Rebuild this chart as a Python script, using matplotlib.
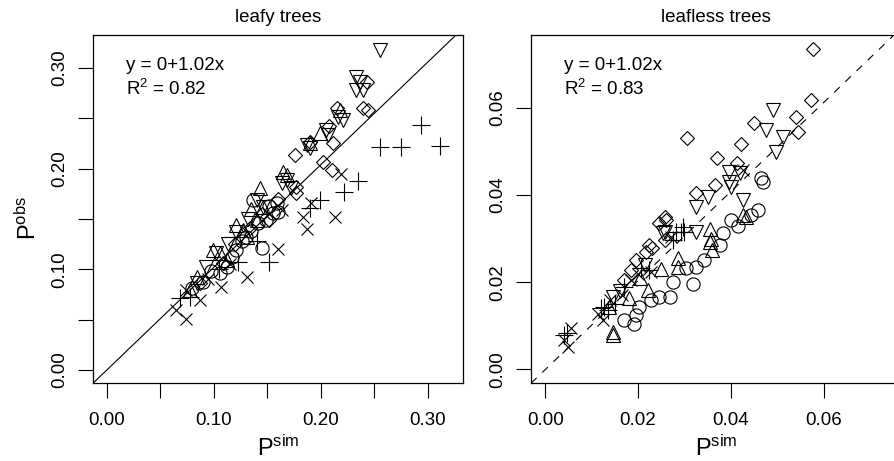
import numpy as np
from matplotlib import pyplot as plt
from matplotlib.ticker import FixedLocator, FixedFormatter

plt.rcParams["font.family"] = "Liberation Sans"
plt.rcParams["mathtext.fontset"] = "custom"
plt.rcParams["mathtext.rm"] = "Liberation Sans"
plt.rcParams["mathtext.it"] = "Liberation Sans"

# %%
# values, (P_sim, P_obs) pairs per symbol group
leafy_circle = [(0.1446, 0.121), (0.1056, 0.096), (0.0897, 0.0878), (0.130, 0.132),
                (0.149, 0.149), (0.155, 0.156), (0.112, 0.1027), (0.121, 0.119),
                (0.137, 0.169), (0.1586, 0.166), (0.117, 0.112), (0.126, 0.128),
                (0.141, 0.146), (0.097, 0.098), (0.080, 0.082), (0.160, 0.157),
                (0.135, 0.138), (0.152, 0.163)]
leafy_tri = [(0.143, 0.181), (0.1645, 0.197), (0.199, 0.2355), (0.2178, 0.258),
             (0.190, 0.2256), (0.121, 0.144), (0.099, 0.119), (0.1056, 0.116),
             (0.084, 0.0928), (0.1306, 0.1325), (0.140, 0.149), (0.146, 0.1624),
             (0.127, 0.139), (0.112, 0.109), (0.078, 0.080), (0.135, 0.160),
             (0.168, 0.194)]
leafy_plus = [(0.294, 0.2435), (0.255, 0.222), (0.275, 0.222), (0.311, 0.2227),
              (0.235, 0.188), (0.222, 0.1766), (0.199, 0.169), (0.190, 0.161),
              (0.152, 0.1077), (0.123, 0.107), (0.068, 0.0716), (0.078, 0.0726),
              (0.105, 0.100), (0.140, 0.128)]
leafy_cross = [(0.213, 0.152), (0.187, 0.140), (0.183, 0.152), (0.160, 0.120),
               (0.131, 0.0924), (0.107, 0.0825), (0.087, 0.0696), (0.074, 0.0507),
               (0.0645, 0.0596), (0.0745, 0.0795), (0.191, 0.1657), (0.164, 0.159),
               (0.219, 0.195), (0.115, 0.105), (0.095, 0.090)]
leafy_diamond = [(0.243, 0.2866), (0.239, 0.260), (0.244, 0.258), (0.2147, 0.260),
                 (0.211, 0.2256), (0.208, 0.242), (0.190, 0.227), (0.176, 0.2137),
                 (0.202, 0.207), (0.210, 0.1988), (0.177, 0.182), (0.177, 0.176),
                 (0.152, 0.149), (0.134, 0.141), (0.109, 0.106), (0.087, 0.0865),
                 (0.160, 0.170), (0.145, 0.155), (0.120, 0.125)]
leafy_invtri = [(0.255, 0.318), (0.233, 0.2915), (0.2365, 0.2866), (0.233, 0.278),
                (0.239, 0.278), (0.221, 0.2485), (0.216, 0.2518), (0.2066, 0.2336),
                (0.205, 0.2386), (0.187, 0.2236), (0.190, 0.2207), (0.164, 0.186),
                (0.1726, 0.181), (0.168, 0.189), (0.140, 0.169), (0.146, 0.162),
                (0.121, 0.1375), (0.1025, 0.116), (0.093, 0.1027), (0.084, 0.0865),
                (0.132, 0.150), (0.113, 0.125)]

leafless_circle = [(0.0458, 0.0365), (0.0444, 0.0354), (0.040, 0.0342), (0.0383, 0.0312),
                   (0.0377, 0.0285), (0.0343, 0.025), (0.0325, 0.0235), (0.0304, 0.0232),
                   (0.0318, 0.0197), (0.0275, 0.0201), (0.0268, 0.0167), (0.0246, 0.0167),
                   (0.0228, 0.0159), (0.0203, 0.0144), (0.0196, 0.0125), (0.017, 0.0113),
                   (0.0192, 0.0105), (0.0465, 0.0438), (0.0469, 0.043), (0.0415, 0.033)]
leafless_tri = [(0.0426, 0.0354), (0.0357, 0.030), (0.0354, 0.0323), (0.036, 0.0274),
                (0.0286, 0.0255), (0.0286, 0.0235), (0.0221, 0.0182), (0.018, 0.0163),
                (0.0145, 0.0086), (0.0145, 0.0079), (0.0433, 0.035), (0.0354, 0.0293),
                (0.0138, 0.0144), (0.0205, 0.021), (0.025, 0.023)]
leafless_plus = [(0.0041, 0.0079), (0.0047, 0.0083), (0.012, 0.014), (0.0127, 0.0144),
                 (0.0134, 0.0136), (0.030, 0.0316), (0.0292, 0.0316), (0.0224, 0.0228),
                 (0.0206, 0.0232), (0.017, 0.019), (0.0296, 0.0327), (0.0282, 0.0316),
                 (0.0275, 0.0297), (0.015, 0.015)]
leafless_cross = [(0.0055, 0.0094), (0.0048, 0.0052), (0.0041, 0.0067), (0.0113, 0.0128),
                  (0.0124, 0.0113), (0.0228, 0.0224), (0.0271, 0.0304), (0.0185, 0.0205),
                  (0.0199, 0.022), (0.0426, 0.0457), (0.014, 0.016), (0.0165, 0.017)]
leafless_diamond = [(0.0577, 0.0736), (0.0573, 0.0618), (0.0541, 0.058), (0.0544, 0.0545),
                    (0.0451, 0.0565), (0.0422, 0.0518), (0.0306, 0.053), (0.0371, 0.0485),
                    (0.0414, 0.0473), (0.0365, 0.0423), (0.0325, 0.0404), (0.0257, 0.035),
                    (0.026, 0.0342), (0.0246, 0.0335), (0.0224, 0.0285), (0.0196, 0.0251),
                    (0.0217, 0.027), (0.0231, 0.0278), (0.017, 0.0205), (0.0185, 0.0228),
                    (0.0257, 0.0297)]
leafless_invtri = [(0.049, 0.0595), (0.0476, 0.0549), (0.0512, 0.0533), (0.0497, 0.0499),
                   (0.0397, 0.0453), (0.0419, 0.045), (0.040, 0.0419), (0.035, 0.0396),
                   (0.0325, 0.0373), (0.0426, 0.0388), (0.0253, 0.0312), (0.0325, 0.0316),
                   (0.0257, 0.0316), (0.0145, 0.0167), (0.0397, 0.043), (0.0215, 0.024),
                   (0.016, 0.018)]

slope = 1.02
r2_leafy = 0.82
r2_leafless = 0.83

leafy_ticks = [0.0, 0.05, 0.10, 0.15, 0.20, 0.25, 0.30]
leafy_labels = ["0.00", "", "0.10", "", "0.20", "", "0.30"]
leafless_ticks = [0.0, 0.02, 0.04, 0.06, 0.08]
leafless_labels = ["0.00", "0.02", "0.04", "0.06", "0.08"]

# %%
markers = [("o", 9.5, 0.8), ("^", 10.5, 0.8), ("+", 12.5, 0.8),
           ("x", 9, 0.8), ("D", 7.2, 0.8), ("v", 10.5, 0.8)]


def panel(ax, groups, lim, ticks, labels, title, r2, ls):
    for pts, (m, ms, mew) in zip(groups, markers):
        pts = np.array(pts)
        ax.plot(pts[:, 0], pts[:, 1], linestyle="none", marker=m, ms=ms,
                mew=mew, mfc="none", mec="black")
    xx = np.array(lim)
    if ls == "solid":
        ax.plot(xx, slope * xx, color="black", lw=0.8)
    else:
        ax.plot(xx, slope * xx, color="black", lw=0.8, dashes=(7, 7))
    ax.set_xlim(lim)
    ax.set_ylim(lim)
    for axis in (ax.xaxis, ax.yaxis):
        axis.set_major_locator(FixedLocator(ticks))
        axis.set_major_formatter(FixedFormatter(labels))
    ax.tick_params(direction="out", length=11, width=0.8, labelsize=13.5)
    ax.tick_params(axis="x", pad=10)
    ax.tick_params(axis="y", pad=7)
    plt.setp(ax.get_yticklabels(), rotation=90, va="center")
    for s in ax.spines.values():
        s.set_linewidth(0.9)
    ax.set_title(title, fontsize=13.5, pad=9)
    ax.text(0.09, 0.899, "y = 0+1.02x", transform=ax.transAxes, fontsize=13.5,
            va="baseline")
    ax.text(0.09, 0.828, "R$^2$ = %.2f" % r2, transform=ax.transAxes, fontsize=13.5,
            va="baseline")


fig = plt.figure(figsize=(8.94, 4.61), dpi=100)
ax1 = fig.add_axes([93 / 894, 78 / 461, 370 / 894, 348 / 461])
ax2 = fig.add_axes([531 / 894, 78 / 461, 370 / 894, 348 / 461])

panel(ax1, [leafy_circle, leafy_tri, leafy_plus, leafy_cross, leafy_diamond, leafy_invtri],
      (-0.0128, 0.3328), leafy_ticks, leafy_labels, "leafy trees", r2_leafy, "solid")
panel(ax2, [leafless_circle, leafless_tri, leafless_plus, leafless_cross, leafless_diamond,
            leafless_invtri],
      (-0.0031, 0.0767), leafless_ticks, leafless_labels, "leafless trees", r2_leafless, "dashed")

fig.text(278 / 894, 0.012, r"P$^{\rm sim}$", fontsize=17, ha="center", va="baseline")
fig.text(716 / 894, 0.012, r"P$^{\rm sim}$", fontsize=17, ha="center", va="baseline")
fig.text(28 / 894, (461 - 218) / 461, r"P$^{\rm obs}$", fontsize=17, ha="center",
         va="center", rotation=90)

fig.savefig("out.png", dpi=100)
